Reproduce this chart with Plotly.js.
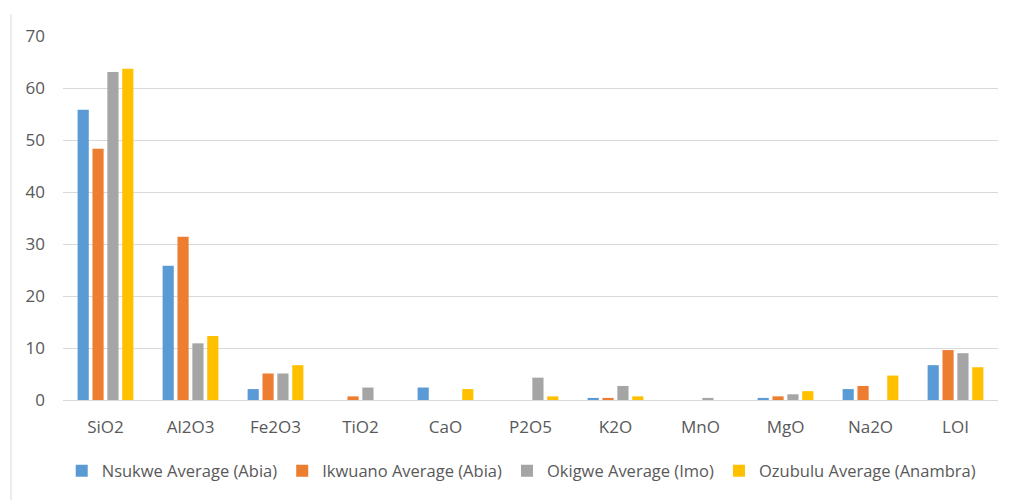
<!DOCTYPE html>
<html><head><meta charset="utf-8">
<script src="https://cdn.plot.ly/plotly-3.0.1.min.js"></script>
<style>html,body{margin:0;padding:0;background:#fff}#chart{width:1016px;height:500px}</style>
</head><body><div id="chart"></div>
<script>
const categories = ["SiO2","Al2O3","Fe2O3","TiO2","CaO","P2O5","K2O","MnO","MgO","Na2O","LOI"];
const nsukwe  = [55.8, 25.8, 2.1, 0,   2.4, 0,   0.4, 0,   0.4, 2.1, 6.7];
const ikwuano = [48.3, 31.4, 5.1, 0.7, 0,   0,   0.4, 0,   0.7, 2.7, 9.6];
const okigwe  = [63.1, 10.9, 5.1, 2.4, 0,   4.3, 2.7, 0.4, 1.1, 0,   9.0];
const ozubulu = [63.7, 12.3, 6.7, 0,   2.1, 0.7, 0.7, 0,   1.7, 4.7, 6.3];
const seriesNames = ["Nsukwe Average (Abia)","Ikwuano Average (Abia)","Okigwe Average (Imo)","Ozubulu Average (Anambra)"];
const colors = ["#5B9BD5","#ED7D31","#A5A5A5","#FFC000"];
const values = [nsukwe, ikwuano, okigwe, ozubulu];

const traces = values.map((v,i)=>({
  type:'bar', x:categories, y:v, name:seriesNames[i],
  marker:{color:colors[i], line:{width:0}}, hoverinfo:'x+y'
}));

const fam = '"Open Sans", "Noto Sans", sans-serif';
const font = {family:fam, color:'#595959', size:17};
const layout = {
  width:1016, height:500,
  margin:{l:63, r:18, t:36, b:100, autoexpand:false},
  paper_bgcolor:'#fff', plot_bgcolor:'#fff',
  barmode:'group', bargap:0.3, bargroupgap:0.25,
  font:font,
  xaxis:{showgrid:false, showline:true, linecolor:'#d9d9d9', linewidth:1, ticks:'', tickfont:font, ticklabelstandoff:12},
  yaxis:{range:[0,70], dtick:10, showgrid:true, gridcolor:'#d9d9d9', gridwidth:1, zeroline:false,
         showline:false, ticks:'', tickfont:font, ticklabelstandoff:17},
  showlegend:true,
  legend:{orientation:'h', xref:'container', yref:'container', x:0.513, xanchor:'center', y:0.058, yanchor:'middle',
          font:{family:fam,color:'#595959',size:16.5}, itemwidth:30, traceorder:'normal'},
  shapes:[{type:'line', xref:'paper', yref:'paper', x0:-0.0556, x1:-0.0556, y0:1.06, y1:-0.3, line:{color:'#d9d9d9', width:1}}]
};
Plotly.newPlot('chart', traces, layout, {displayModeBar:false, staticPlot:true});
</script></body></html>
